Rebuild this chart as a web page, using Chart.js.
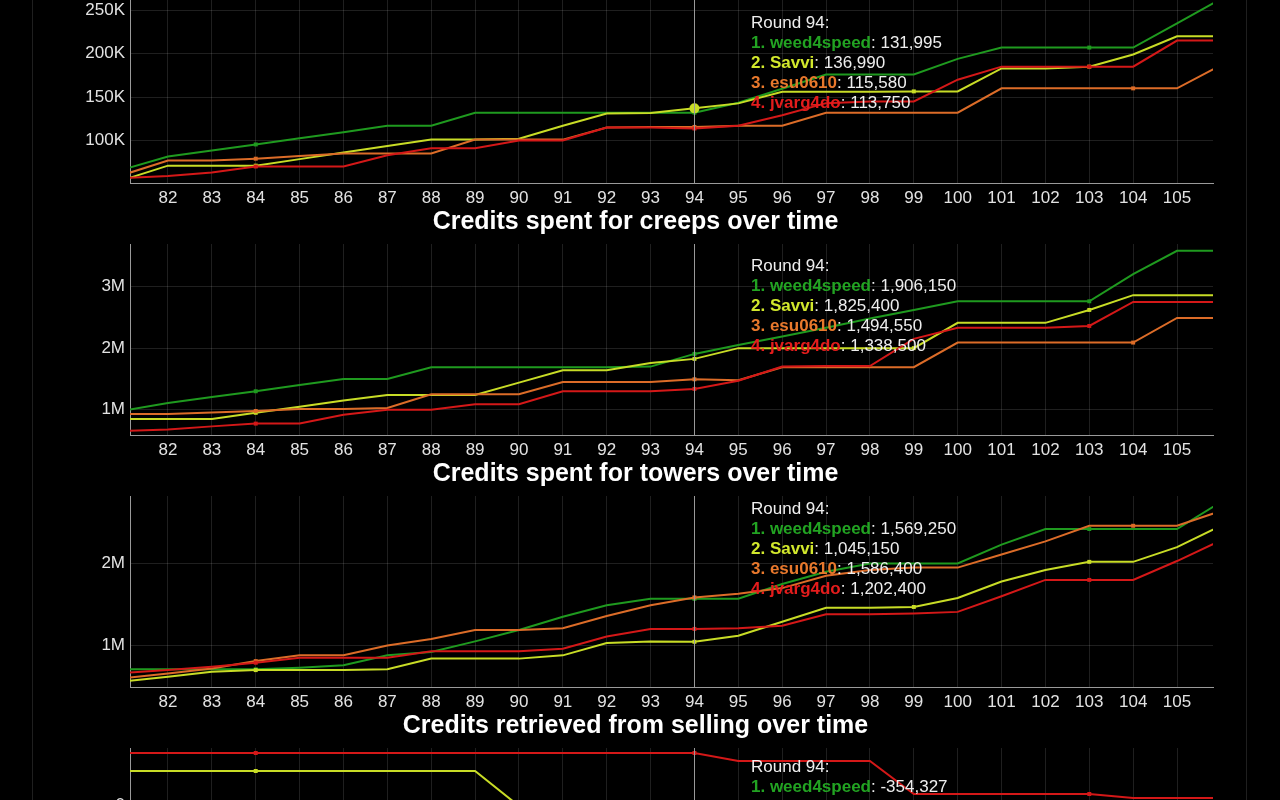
<!DOCTYPE html>
<html><head><meta charset="utf-8">
<script src="https://cdn.jsdelivr.net/npm/chart.js@4.4.1/dist/chart.umd.min.js"></script>
<style>
html,body{margin:0;padding:0;background:#000;}
body{width:1280px;height:800px;overflow:hidden;position:relative;font-family:"Liberation Sans",Arial,sans-serif;}
.frame{position:absolute;top:0;height:800px;width:1px;background:#1f1f1f;}
.chart{position:absolute;left:0;width:1280px;height:221px;}
.title{position:absolute;left:0;width:1271px;text-align:center;color:#fff;font-weight:bold;font-size:25px;line-height:30px;}
.tip{position:absolute;left:751px;color:#eee;font-size:17px;line-height:20px;white-space:nowrap;}
.tip b{font-weight:bold;}
</style></head>
<body>
<div class="frame" style="left:32px"></div>
<div class="frame" style="left:1246px"></div>
<script>
// ---- data ----
const rounds = [81,82,83,84,85,86,87,88,89,90,91,92,93,94,95,96,97,98,99,100,101,102,103,104,105,106];
const roundTicks = [82,83,84,85,86,87,88,89,90,91,92,93,94,95,96,97,98,99,100,101,102,103,104,105];
const players = ['weed4speed','Savvi','esu0610','jvarg4do'];
const hoverRound = 94;

// Credits spent for creeps
const creepsTicks = [100000,150000,200000,250000];
const creepsWeed  = [66800,81500,88500,95400,102500,109500,117000,117000,132000,132000,132000,132000,132000,131995,143500,159500,176000,176000,176000,194000,207000,207000,207000,207000,235000,263000];
const creepsSavvi = [54800,71000,71000,71000,78500,86000,93500,101000,101000,102000,117000,131000,131500,136990,142700,156000,156000,156000,156500,156500,183000,183000,185000,199000,220000,220000];
const creepsEsu   = [60800,77000,77000,79000,82000,85000,85000,85000,101000,101000,101000,115000,115500,115580,117000,117000,132000,132000,132000,132000,160000,160000,160000,160000,160000,186700];
const creepsJvarg = [56700,59000,63000,70000,70000,70000,83000,91000,91000,100000,100000,115000,115000,113750,117000,129000,143000,145000,145000,170000,185000,185000,185000,185000,215000,215000];

// Credits spent for towers
const towersTicks = [1000000,2000000,3000000];
const towersWeed  = [986000,1110000,1205000,1300000,1400000,1500000,1500000,1690000,1690000,1690000,1690000,1690000,1700000,1906150,2050000,2190000,2330000,2480000,2620000,2760000,2760000,2760000,2760000,3200000,3580000,3580000];
const towersSavvi = [850000,850000,850000,950000,1050000,1150000,1240000,1240000,1240000,1440000,1640000,1640000,1760000,1825400,2000000,2000000,2000000,2000000,2000000,2410000,2410000,2410000,2620000,2860000,2860000,2860000];
const towersEsu   = [930000,930000,955000,980000,1010000,1010000,1030000,1250000,1250000,1250000,1450000,1450000,1450000,1494550,1480000,1690000,1690000,1690000,1690000,2090000,2090000,2090000,2090000,2090000,2490000,2490000];
const towersJvarg = [655000,680000,730000,775000,775000,920000,1000000,1000000,1090000,1090000,1300000,1300000,1300000,1338500,1470000,1700000,1710000,1710000,2150000,2330000,2330000,2330000,2360000,2750000,2750000,2750000];

// Credits retrieved from selling
const sellTicks = [1000000,2000000];
const sellWeed  = [710000,710000,710000,710000,730000,760000,880000,920000,1050000,1190000,1350000,1490000,1570000,1569250,1570000,1750000,1900000,2000000,2000000,2000000,2230000,2420000,2420000,2420000,2420000,2750000];
const sellSavvi = [562000,620000,680000,700000,700000,700000,710000,840000,840000,840000,880000,1030000,1050000,1045150,1120000,1290000,1460000,1460000,1470000,1580000,1780000,1920000,2020000,2020000,2200000,2460000];
const sellEsu   = [602000,660000,720000,810000,880000,880000,1000000,1080000,1190000,1190000,1210000,1360000,1490000,1586400,1630000,1700000,1850000,1920000,1950000,1950000,2110000,2270000,2460000,2460000,2460000,2640000];
const sellJvarg = [665000,700000,740000,790000,850000,850000,850000,930000,930000,930000,960000,1110000,1200000,1202400,1210000,1240000,1380000,1380000,1390000,1410000,1600000,1800000,1800000,1800000,2030000,2280000];

// Fourth chart (only its top is visible)
const fourthTicks = [-500000,0];
const fourthWeed  = [-200000,-215000,-230000,-245000,-260000,-270000,-280000,-290000,-300000,-310000,-320000,-330000,-340000,-354327,-365000,-375000,-385000,-395000,-405000,-415000,-420000,-425000,-430000,-440000,-445000,-450000];
const fourthSavvi = [170000,170000,170000,170000,170000,170000,170000,170000,170000,-5000,-60000,-80000,-120000,-150000,-170000,-185000,-200000,-210000,-220000,-230000,-235000,-240000,-245000,-250000,-255000,-260000];
const fourthEsu   = [15000,15000,15000,15000,15000,15000,15000,15000,5000,-30000,-50000,-70000,-90000,-110000,-120000,-130000,-140000,-150000,-160000,-170000,-175000,-180000,-185000,-190000,-195000,-200000];
const fourthJvarg = [260000,260000,260000,260000,260000,260000,260000,260000,260000,260000,260000,260000,260000,260000,220000,220000,220000,220000,55000,55000,55000,55000,55000,35000,35000,35000];

// rounds where each player's points are marked
const marksWeed  = [84,94,103];
const marksSavvi = [84,94,99,103];
const marksEsu   = [84,94,104];
const marksJvarg = [84,94,103];

const lineColors  = ['#1f9a1f','#c8dc26','#dc6c28','#d41818'];
const labelColors = ['#22a322','#d2e82c','#e8782c','#e41c1c'];

// ---- charts ----
const charts = [
  {top:-8,  min:51000,   max:271000,  ticks:creepsTicks, title:'Credits spent for creeps over time', tipTop:21, series:[creepsWeed,creepsSavvi,creepsEsu,creepsJvarg], hover:1},
  {top:244, min:590000,  max:3690000, ticks:towersTicks, title:'Credits spent for towers over time', tipTop:12, series:[towersWeed,towersSavvi,towersEsu,towersJvarg], hover:-1},
  {top:496, min:494000,  max:2823000, ticks:sellTicks,   title:'Credits retrieved from selling over time', tipTop:3, series:[sellWeed,sellSavvi,sellEsu,sellJvarg], hover:-1},
  {top:748, min:-670000, max:285000,  ticks:fourthTicks, title:'', tipTop:9, series:[fourthWeed,fourthSavvi,fourthEsu,fourthJvarg], hover:-1}
];
const marks = [marksWeed, marksSavvi, marksEsu, marksJvarg];

Chart.defaults.font.family = '"Liberation Sans", Arial, sans-serif';
Chart.defaults.font.size = 17;
Chart.defaults.color = '#e2e2e2';

function fmtAxis(v){
  if (v === 0) return '0';
  if (Math.abs(v) >= 1e6) return (v/1e6) + 'M';
  return (v/1e3) + 'K';
}
function fmtNum(v){ return v.toLocaleString('en-US'); }

const crosshair = {
  id:'crosshair',
  afterDatasetsDraw(chart){
    const x = chart.scales.x.getPixelForValue(hoverRound);
    const a = chart.chartArea, c = chart.ctx;
    c.save();
    c.strokeStyle = '#999999'; c.lineWidth = 1;
    c.beginPath(); c.moveTo(Math.round(x)+0.5, a.top); c.lineTo(Math.round(x)+0.5, a.bottom); c.stroke();
    c.restore();
  }
};

const hIdx = rounds.indexOf(hoverRound);

charts.forEach((cfg, ci) => {
  const box = document.createElement('div');
  box.className = 'chart';
  box.style.top = cfg.top + 'px';
  const cv = document.createElement('canvas');
  box.appendChild(cv);
  document.body.appendChild(box);

  if (cfg.title) {
    const t = document.createElement('div');
    t.className = 'title';
    t.style.top = (cfg.top + 213) + 'px';
    t.textContent = cfg.title;
    document.body.appendChild(t);
  }
  const tip = document.createElement('div');
  tip.className = 'tip';
  tip.style.top = (cfg.top + cfg.tipTop) + 'px';
  let html = 'Round ' + hoverRound + ':';
  players.forEach((p, i) => {
    html += '<br><b style="color:' + labelColors[i] + '">' + (i+1) + '. ' + p + '</b>: ' + fmtNum(cfg.series[i][hIdx]);
  });
  tip.innerHTML = html;

  const datasets = cfg.series.map((arr, si) => ({
    label: players[si],
    data: rounds.map((r, i) => ({x:r, y:arr[i]})),
    borderColor: lineColors[si],
    backgroundColor: lineColors[si],
    borderWidth: 2,
    tension: 0,
    pointBorderWidth: 0,
    pointStyle: ctx => (si === cfg.hover && rounds[ctx.dataIndex] === hoverRound) ? 'circle' : 'rect',
    pointRadius: ctx => {
      const r = rounds[ctx.dataIndex];
      if (si === cfg.hover && r === hoverRound) return 5;
      return marks[si].includes(r) ? 2.8 : 0;
    },
    pointHoverRadius: 0
  })).reverse();

  new Chart(cv, {
    type: 'line',
    data: { datasets },
    options: {
      responsive: true,
      maintainAspectRatio: false,
      animation: false,
      events: [],
      layout: { padding: { left: 0, right: 67, top: 0, bottom: 0 } },
      plugins: { legend: { display: false }, tooltip: { enabled: false } },
      scales: {
        x: {
          type: 'linear', min: 81.134, max: 105.82,
          afterBuildTicks(s){ s.ticks = roundTicks.map(v => ({value:v})); },
          ticks: { padding: 5, autoSkip: false, maxRotation: 0, color: '#e2e2e2' },
          grid: { color: 'rgba(255,255,255,0.12)', drawTicks: false },
          border: { color: '#9a9a9a' },
          afterFit(s){ s.height = 30; s.paddingLeft = 0; s.paddingRight = 0; }
        },
        y: {
          min: cfg.min, max: cfg.max,
          afterBuildTicks(s){ s.ticks = cfg.ticks.map(v => ({value:v})); },
          ticks: { padding: 5, callback: fmtAxis, color: '#e2e2e2' },
          grid: { color: 'rgba(255,255,255,0.12)', drawTicks: false },
          border: { color: '#9a9a9a' },
          afterFit(s){ s.width = 130; s.paddingTop = 0; s.paddingBottom = 0; }
        }
      }
    },
    plugins: [crosshair]
  });
  document.body.appendChild(tip);
});
</script>
</body></html>
